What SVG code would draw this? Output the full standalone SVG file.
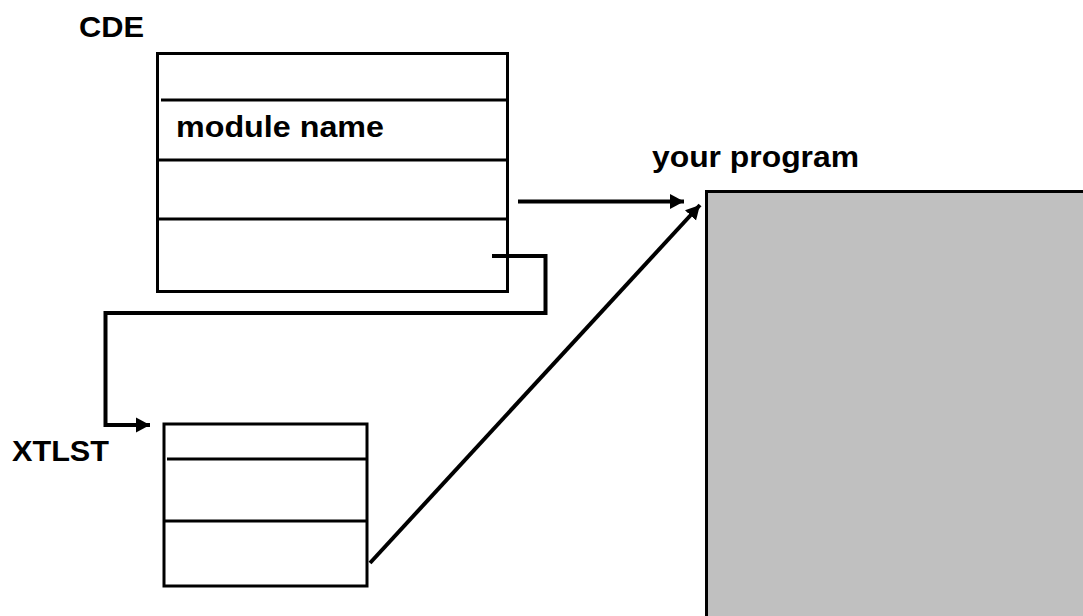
<svg xmlns="http://www.w3.org/2000/svg" width="1083" height="616" viewBox="0 0 1083 616">
<style>
.lbl{font-family:"Liberation Sans",Arial,sans-serif;font-weight:bold;font-size:30px;fill:#000}
.box{fill:#fff;stroke:#000;stroke-width:3}
.div{stroke:#000;stroke-width:3}
.con{fill:none;stroke:#000;stroke-width:4}
</style>
<defs>
<marker id="ah" markerUnits="userSpaceOnUse" markerWidth="16" markerHeight="16" viewBox="0 0 16 16" refX="14" refY="8" orient="auto">
<path d="M0,0.5 L14,8 L0,15.5 Z" fill="#000"/>
</marker>
</defs>
<rect width="1083" height="616" fill="#fff"/>
<g id="cde">
<text class="lbl" x="79" y="37" textLength="65" lengthAdjust="spacingAndGlyphs">CDE</text>
<rect class="box" x="157.5" y="53.5" width="350" height="238"/>
<line class="div" x1="161" y1="100" x2="506" y2="100"/>
<line class="div" x1="157" y1="160" x2="506" y2="160"/>
<line class="div" x1="157" y1="219" x2="506" y2="219"/>
<text class="lbl" x="176" y="137" textLength="208" lengthAdjust="spacingAndGlyphs">module name</text>
</g>
<g id="xtlst">
<text class="lbl" x="12" y="461" textLength="97" lengthAdjust="spacingAndGlyphs">XTLST</text>
<rect class="box" x="164" y="424" width="203" height="162"/>
<line class="div" x1="167" y1="459" x2="366" y2="459"/>
<line class="div" x1="164" y1="521" x2="366" y2="521"/>
</g>
<g id="program">
<text class="lbl" x="652" y="167" textLength="207" lengthAdjust="spacingAndGlyphs">your program</text>
<rect x="706.5" y="191.5" width="400" height="450" fill="#c0c0c0" stroke="#000" stroke-width="3"/>
</g>
<g id="connectors">
<line class="con" x1="518" y1="201.5" x2="684" y2="201.5" marker-end="url(#ah)"/>
<polyline class="con" points="492,256 545.5,256 545.5,313 105.5,313 105.5,425 150,425" marker-end="url(#ah)"/>
<line class="con" x1="370" y1="563" x2="700" y2="205" marker-end="url(#ah)"/>
</g>
</svg>
